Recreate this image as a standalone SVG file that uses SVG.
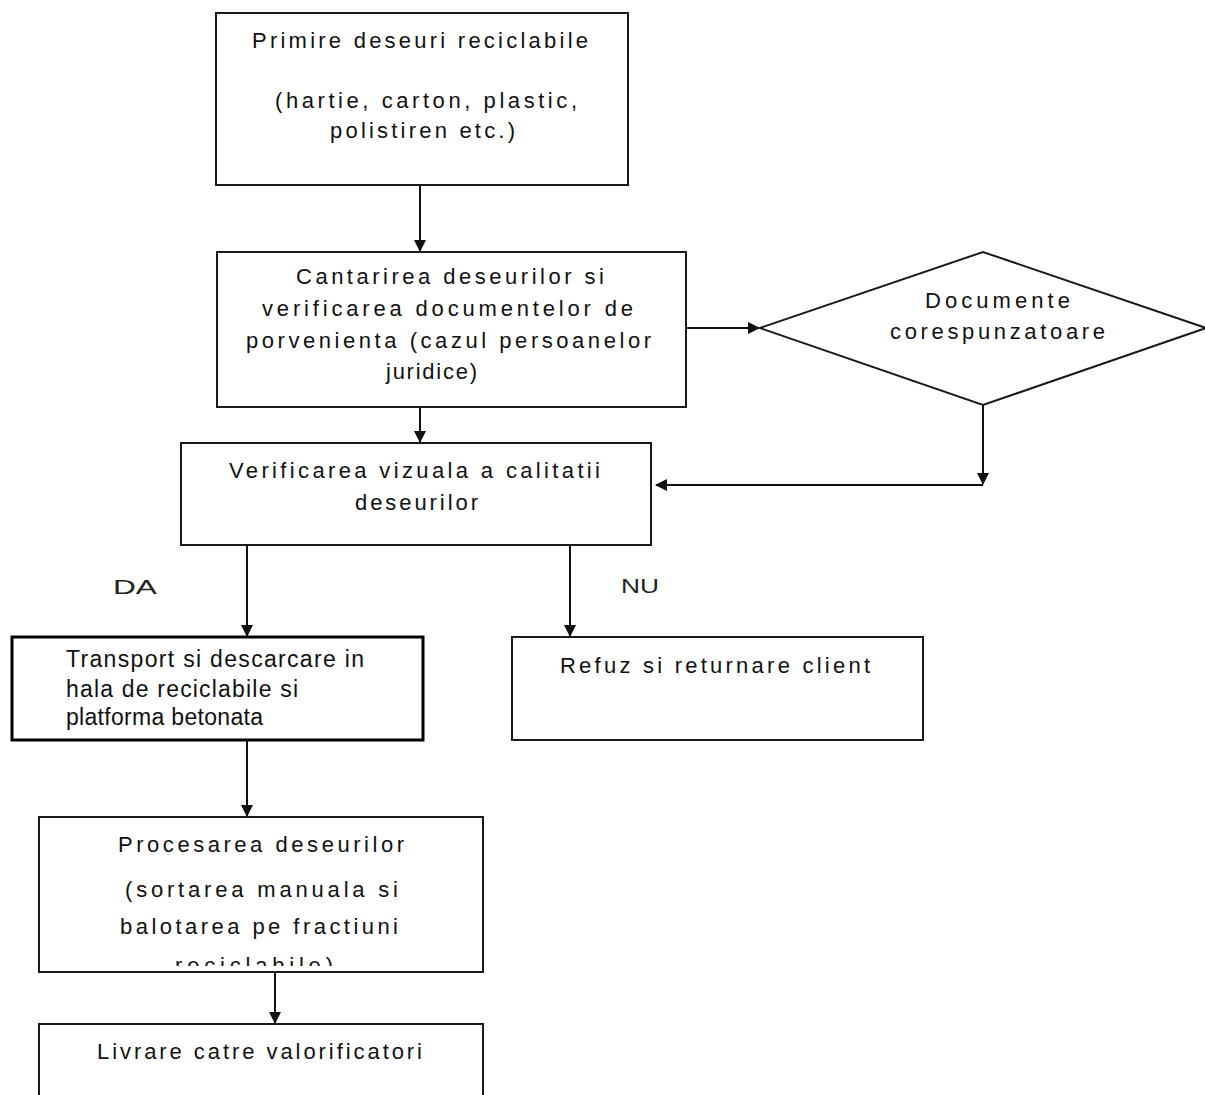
<svg xmlns="http://www.w3.org/2000/svg" width="1205" height="1095" viewBox="0 0 1205 1095">
<style>
.box{fill:#fff;stroke:#1a1a1a;stroke-width:2}
.thick{fill:#fff;stroke:#000;stroke-width:3}
.t{font-family:"Liberation Sans",Arial,sans-serif;font-size:22px;fill:#111}
.t2{font-family:"Liberation Sans",Arial,sans-serif;font-size:23px;fill:#111}
.lbl{font-family:"Liberation Sans",Arial,sans-serif;font-size:21px;fill:#222}
.c{stroke:#111;stroke-width:2;fill:none}
</style>
<defs>
<marker id="ah" viewBox="0 0 12 12" refX="11" refY="6" markerWidth="12" markerHeight="12" markerUnits="userSpaceOnUse" orient="auto">
<path d="M0,0 L12,6 L0,12 Z" fill="#111"/>
</marker>
<clipPath id="clip6"><rect x="40" y="818" width="442" height="148"/></clipPath>
</defs>
<rect width="1205" height="1095" fill="#fff"/>
<g id="connectors">
<line class="c" x1="420" y1="185" x2="420" y2="251" marker-end="url(#ah)"/>
<line class="c" x1="420" y1="398" x2="420" y2="442" marker-end="url(#ah)"/>
<line class="c" x1="686" y1="328" x2="759" y2="328" marker-end="url(#ah)"/>
<line class="c" x1="983" y1="405" x2="983" y2="484" marker-end="url(#ah)"/>
<line class="c" x1="983" y1="485" x2="656" y2="485" marker-end="url(#ah)"/>
<line class="c" x1="247" y1="545" x2="247" y2="636" marker-end="url(#ah)"/>
<line class="c" x1="570" y1="535" x2="570" y2="636" marker-end="url(#ah)"/>
<line class="c" x1="247" y1="740" x2="247" y2="816" marker-end="url(#ah)"/>
<line class="c" x1="275" y1="972" x2="275" y2="1023" marker-end="url(#ah)"/>
<text class="lbl" x="113" y="594" textLength="44" lengthAdjust="spacingAndGlyphs">DA</text>
<text class="lbl" x="621" y="593" textLength="38" lengthAdjust="spacingAndGlyphs">NU</text>
</g>
<g id="n1">
<rect class="box" x="216" y="13" width="412" height="172"/>
<text class="t" x="252" y="48" textLength="336" lengthAdjust="spacing">Primire deseuri reciclabile</text>
<text class="t" x="275" y="108" textLength="302" lengthAdjust="spacing">(hartie, carton, plastic,</text>
<text class="t" x="330" y="138" textLength="185" lengthAdjust="spacing">polistiren etc.)</text>
</g>
<g id="n2">
<rect class="box" x="217" y="252" width="469" height="155"/>
<text class="t" x="296" y="284" textLength="308" lengthAdjust="spacing">Cantarirea  deseurilor  si</text>
<text class="t" x="262" y="316" textLength="371" lengthAdjust="spacing">verificarea  documentelor  de</text>
<text class="t" x="246" y="348" textLength="405" lengthAdjust="spacing">porvenienta  (cazul persoanelor</text>
<text class="t" x="386" y="379" textLength="91" lengthAdjust="spacing">juridice)</text>
</g>
<g id="n3">
<polygon class="box" points="760,328 983,252 1206,328 983,405"/>
<text class="t" x="925" y="308" textLength="145" lengthAdjust="spacing">Documente</text>
<text class="t" x="890" y="339" textLength="215" lengthAdjust="spacing">corespunzatoare</text>
</g>
<g id="n4">
<rect class="box" x="181" y="443" width="470" height="102"/>
<text class="t" x="229" y="478" textLength="371" lengthAdjust="spacing">Verificarea  vizuala  a calitatii</text>
<text class="t" x="355" y="510" textLength="123" lengthAdjust="spacing">deseurilor</text>
</g>
<g id="n5">
<rect class="thick" x="12" y="637" width="411" height="103"/>
<text class="t2" x="66" y="667" textLength="298" lengthAdjust="spacing">Transport si descarcare in</text>
<text class="t2" x="66" y="697" textLength="232" lengthAdjust="spacing">hala de reciclabile si</text>
<text class="t2" x="66" y="725" textLength="197" lengthAdjust="spacing">platforma betonata</text>
</g>
<g id="n6">
<rect class="box" x="512" y="637" width="411" height="103"/>
<text class="t" x="560" y="673" textLength="310" lengthAdjust="spacing">Refuz  si returnare  client</text>
</g>
<g id="n7">
<rect class="box" x="39" y="817" width="444" height="155"/>
<text class="t" x="118" y="852" textLength="286" lengthAdjust="spacing">Procesarea  deseurilor</text>
<text class="t" x="125" y="897" textLength="273" lengthAdjust="spacing">(sortarea  manuala  si</text>
<text class="t" x="120" y="934" textLength="278" lengthAdjust="spacing">balotarea  pe  fractiuni</text>
<text class="t" x="175" y="973" textLength="158" lengthAdjust="spacing" clip-path="url(#clip6)">reciclabile)</text>
</g>
<g id="n8">
<rect class="box" x="39" y="1024" width="444" height="90"/>
<text class="t" x="97" y="1059" textLength="325" lengthAdjust="spacing">Livrare  catre valorificatori</text>
</g>
</svg>
